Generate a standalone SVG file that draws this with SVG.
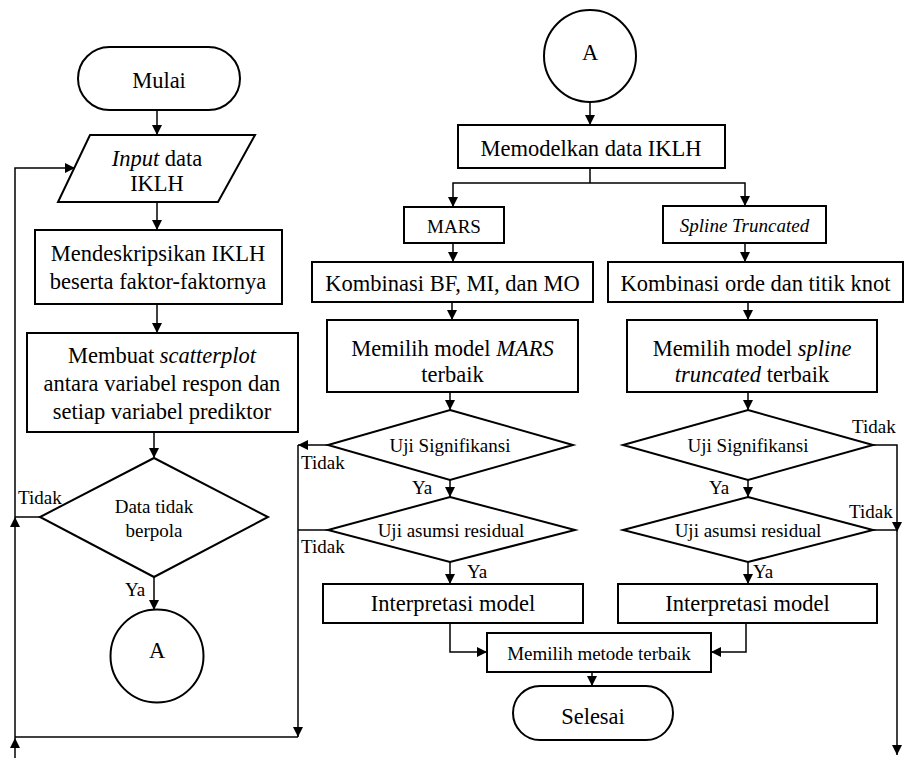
<svg xmlns="http://www.w3.org/2000/svg" width="912" height="758" viewBox="0 0 912 758" font-family="'Liberation Serif', 'Times New Roman', serif">
<defs>
<marker id="ah" markerUnits="userSpaceOnUse" markerWidth="10" markerHeight="10" refX="10" refY="5" orient="auto">
<path d="M0,0 L10,5 L0,10 z" fill="#000"/>
</marker>
<style>
.s{fill:#fff;stroke:#000;stroke-width:2}
.c{fill:none;stroke:#000;stroke-width:1.5}
.a{marker-end:url(#ah)}
text{font-family:'Liberation Serif','Times New Roman',Tinos,serif;fill:#000}
.b{font-size:22.5px;text-anchor:middle}
.m{font-size:19px;text-anchor:middle}
.l{font-size:19px}
.i{font-style:italic}
</style>
</defs>
<rect width="912" height="758" fill="#fff"/>
<g id="connectors">
<line class="c a" x1="157" y1="110" x2="157" y2="135"/>
<line class="c a" x1="157" y1="202" x2="157" y2="230"/>
<line class="c a" x1="157" y1="304" x2="157" y2="333"/>
<line class="c a" x1="154" y1="432" x2="154" y2="458"/>
<line class="c a" x1="154" y1="577" x2="154" y2="610"/>
<polyline class="c" points="40,517 15,517"/>
<line class="c a" x1="15" y1="758" x2="15" y2="738"/>
<line class="c a" x1="15" y1="738" x2="15" y2="517"/>
<polyline class="c a" points="15,517 15,168 75,168"/>
<line class="c" x1="298" y1="737" x2="15" y2="737"/>
<line class="c a" x1="590" y1="102" x2="590" y2="125"/>
<line class="c" x1="590" y1="168" x2="590" y2="183"/>
<polyline class="c a" points="590,183 453,183 453,207"/>
<polyline class="c a" points="590,183 745,183 745,206"/>
<line class="c a" x1="453" y1="243" x2="453" y2="262"/>
<line class="c a" x1="745" y1="243" x2="745" y2="262"/>
<line class="c a" x1="452" y1="302" x2="452" y2="320"/>
<line class="c a" x1="748" y1="302" x2="748" y2="320"/>
<line class="c a" x1="450" y1="392" x2="450" y2="410"/>
<line class="c a" x1="748" y1="392" x2="748" y2="410"/>
<line class="c a" x1="450" y1="480" x2="450" y2="497"/>
<line class="c a" x1="748" y1="480" x2="748" y2="497"/>
<line class="c a" x1="450" y1="562" x2="450" y2="584"/>
<line class="c a" x1="748" y1="562" x2="748" y2="584"/>
<line class="c a" x1="328" y1="445" x2="298" y2="445"/>
<line class="c a" x1="298" y1="445" x2="298" y2="737"/>
<line class="c" x1="328" y1="530" x2="298" y2="530"/>
<polyline class="c a" points="873,445 897,445 897,532"/>
<line class="c a" x1="897" y1="532" x2="897" y2="755"/>
<line class="c" x1="873" y1="530" x2="897" y2="530"/>
<polyline class="c a" points="450,623 450,652 487,652"/>
<polyline class="c a" points="746,623 746,652 711,652"/>
<line class="c a" x1="592" y1="672" x2="592" y2="686"/>
</g>
<g id="mulai"><rect class="s" x="78" y="47" width="162" height="63" rx="31.5"/><text class="b" x="159" y="88">Mulai</text></g>
<g id="input"><polygon class="s" points="90,135 255,135 218,202 58,202"/><text class="b" x="157" y="166"><tspan class="i">Input</tspan> data</text><text class="b" x="157" y="191">IKLH</text></g>
<g id="deskripsi"><rect class="s" x="35" y="230" width="247" height="74"/><text class="b" x="158" y="261">Mendeskripsikan IKLH</text><text class="b" x="158" y="289">beserta faktor-faktornya</text></g>
<g id="scatter"><rect class="s" x="27" y="333" width="271" height="99"/><text class="b" x="162" y="363">Membuat <tspan class="i">scatterplot</tspan></text><text class="b" x="162" y="391">antara variabel respon dan</text><text class="b" x="162" y="419">setiap variabel prediktor</text></g>
<g id="pola"><polygon class="s" points="154,458 268,517 154,577 40,517"/><text class="m" x="154" y="513">Data tidak</text><text class="m" x="154" y="537">berpola</text></g>
<g id="a1"><circle class="s" cx="157" cy="656" r="46.5"/><text class="b" x="157" y="658">A</text></g>
<g id="a2"><circle class="s" cx="590" cy="56" r="46"/><text class="b" x="590" y="60">A</text></g>
<g id="memodelkan"><rect class="s" x="458" y="125" width="267" height="43"/><text class="b" x="591" y="156">Memodelkan data IKLH</text></g>
<g id="mars"><rect class="s" x="404" y="207" width="100" height="36"/><text class="m" x="454" y="233">MARS</text></g>
<g id="spline"><rect class="s" x="663" y="206" width="163" height="37"/><text class="m i" x="744.5" y="232">Spline Truncated</text></g>
<g id="kombmars"><rect class="s" x="312" y="262" width="281" height="40"/><text class="b" x="452.5" y="291">Kombinasi BF, MI, dan MO</text></g>
<g id="kombspline"><rect class="s" x="608" y="262" width="295" height="40"/><text class="b" x="755.5" y="291">Kombinasi orde dan titik knot</text></g>
<g id="pilihmars"><rect class="s" x="327" y="320" width="251" height="72"/><text class="b" x="452.5" y="356">Memilih model <tspan class="i">MARS</tspan></text><text class="b" x="452.5" y="382">terbaik</text></g>
<g id="pilihspline"><rect class="s" x="627" y="320" width="250" height="72"/><text class="b" x="752" y="356">Memilih model <tspan class="i">spline</tspan></text><text class="b" x="752" y="382"><tspan class="i">truncated</tspan> terbaik</text></g>
<g id="sigmars"><polygon class="s" points="450,410 573,445 450,480 328,445"/><text class="m" x="450" y="452">Uji Signifikansi</text></g>
<g id="sigspline"><polygon class="s" points="748,410 873,445 748,480 623,445"/><text class="m" x="748" y="452">Uji Signifikansi</text></g>
<g id="resmars"><polygon class="s" points="450,497 575,530 450,562 328,530"/><text class="m" x="451" y="537">Uji asumsi residual</text></g>
<g id="resspline"><polygon class="s" points="748,497 873,530 748,562 623,530"/><text class="m" x="748" y="537">Uji asumsi residual</text></g>
<g id="intmars"><rect class="s" x="323" y="584" width="260" height="39"/><text class="b" x="453" y="611">Interpretasi model</text></g>
<g id="intspline"><rect class="s" x="618" y="584" width="259" height="39"/><text class="b" x="747.5" y="611">Interpretasi model</text></g>
<g id="metode"><rect class="s" x="487" y="633" width="224" height="39"/><text class="m" x="599" y="659.5">Memilih metode terbaik</text></g>
<g id="selesai"><rect class="s" x="513" y="686" width="160" height="54" rx="27"/><text class="b" x="593" y="724">Selesai</text></g>
<g id="labels">
<text class="l" x="18" y="504">Tidak</text>
<text class="l" x="125" y="596">Ya</text>
<text class="l" x="301" y="469">Tidak</text>
<text class="l" x="301" y="553">Tidak</text>
<text class="l" x="412" y="494">Ya</text>
<text class="l" x="467" y="578">Ya</text>
<text class="l" x="709" y="494">Ya</text>
<text class="l" x="753" y="578">Ya</text>
<text class="l" x="852" y="433">Tidak</text>
<text class="l" x="849" y="518">Tidak</text>
</g>
</svg>
